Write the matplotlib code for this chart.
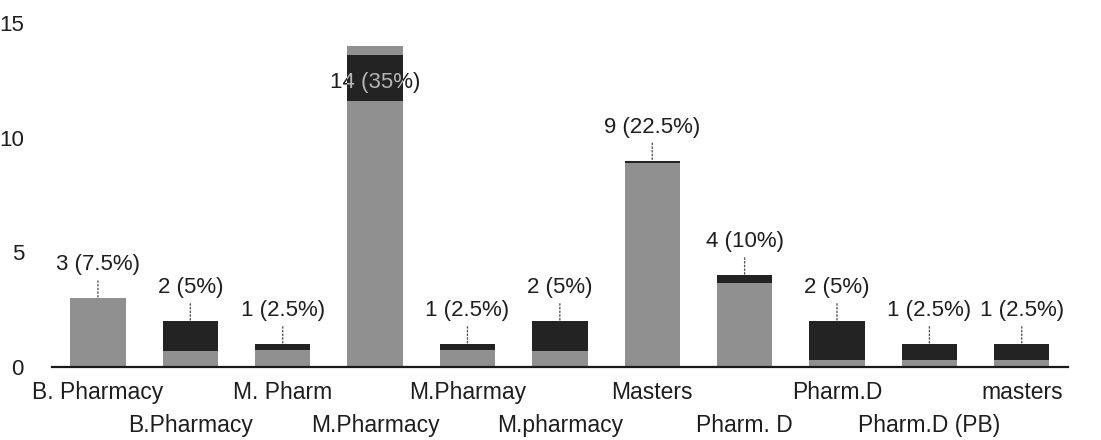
import matplotlib.pyplot as plt
import numpy as np
from matplotlib.transforms import Bbox, TransformedBbox

plt.rcParams['font.family'] = ['Liberation Sans', 'DejaVu Sans']

categories = ["B. Pharmacy", "B.Pharmacy", "M. Pharm", "M.Pharmacy", "M.Pharmay",
              "M.pharmacy", "Masters", "Pharm. D", "Pharm.D", "Pharm.D (PB)", "masters"]
counts = [3, 2, 1, 14, 1, 2, 9, 4, 2, 1, 1]
percents = [7.5, 5, 2.5, 35, 2.5, 5, 22.5, 10, 5, 2.5, 2.5]
# the scan shows the bars split into grey and dark bands
grey_part = [3, 0.7, 0.75, 11.6, 0.75, 0.7, 8.9, 3.65, 0.3, 0.3, 0.3]
dark_part = [0, 1.3, 0.25, 2.0, 0.25, 1.3, 0.1, 0.35, 1.7, 0.7, 0.7]
top_part = [c - g - d for c, g, d in zip(counts, grey_part, dark_part)]

grey = "#909090"
dark = "#232323"
txt = "#1e1e1e"

fig = plt.figure(figsize=(11.01, 4.4), dpi=100)
ax = fig.add_axes([0.047, 0.166, 0.923, 0.782])

x = np.arange(len(categories))
w = 0.6
ax.bar(x, grey_part, width=w, color=grey, zorder=2)
ax.bar(x, dark_part, width=w, bottom=grey_part, color=dark, zorder=2)
ax.bar(x, top_part, width=w, bottom=np.array(grey_part) + np.array(dark_part), color=grey, zorder=2)

ax.set_xlim(-0.5, len(categories) - 0.5)
ax.set_ylim(0, 15)
ax.set_yticks([0, 5, 10, 15])
ax.tick_params(axis='y', length=0, labelsize=16, pad=20, labelcolor=txt)

for s in ["top", "left", "right"]:
    ax.spines[s].set_visible(False)
ax.spines["bottom"].set_color("#1a1a1a")
ax.spines["bottom"].set_linewidth(1.6)
ax.spines["bottom"].set_zorder(3)

# staggered category labels
ax.set_xticks(x[::2])
ax.set_xticklabels(categories[::2])
ax.set_xticks(x[1::2], minor=True)
ax.set_xticklabels(categories[1::2], minor=True)
ax.tick_params(axis='x', which='major', length=0, labelsize=16.5, pad=10, labelcolor=txt)
ax.tick_params(axis='x', which='minor', length=0, labelsize=16.5, pad=34, labelcolor=txt)

for i, (c, p) in enumerate(zip(counts, percents)):
    lab = f"{c} ({p:g}%)"
    if c == max(counts):
        ax.text(i, 12.4, lab, ha="center", va="center", fontsize=16, color=txt, zorder=4)
        # the part of the label lying on the dark band shows up light in the scan
        t2 = ax.text(i, 12.4, lab, ha="center", va="center", fontsize=16, color="#b5b5b5", zorder=5)
        band = Bbox([[i - w / 2, grey_part[i]], [i + w / 2, grey_part[i] + dark_part[i]]])
        t2.set_clip_box(TransformedBbox(band, ax.transData))
        t2.set_clip_on(True)
    else:
        ax.annotate(lab, xy=(i, c), xytext=(0, 24), textcoords="offset points",
                    ha="center", va="center", fontsize=16, color=txt,
                    arrowprops=dict(arrowstyle="-", linestyle=":", color="#555555", lw=1,
                                    shrinkA=2, shrinkB=0))

plt.savefig("out.png", dpi=100)
